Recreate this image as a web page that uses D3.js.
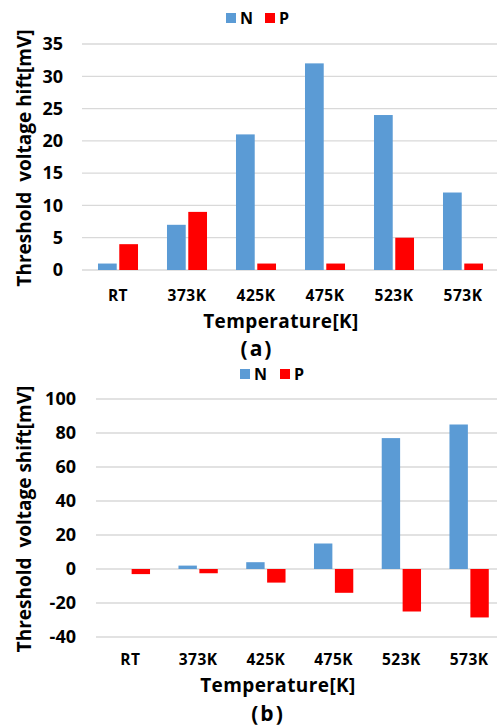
<!DOCTYPE html>
<html>
<head>
<meta charset="utf-8">
<script src="https://cdn.jsdelivr.net/npm/d3@7"></script>
<style>
	body { margin: 0; background: #fff; }
	svg text { font-family: "Open Sans", sans-serif; font-weight: bold; fill: #000; }
</style>
</head>
<body>
<svg width="497" height="727"></svg>
<script>
// Data
var temps = ["RT", "373K", "425K", "475K", "523K", "573K"];
var seriesNames = ["N", "P"];
var colors = ["#5b9bd5", "#ff0000"];

var nShiftA = [1, 7, 21, 32, 24, 12];
var pShiftA = [4, 9, 1, 1, 5, 1];
var ticksA = [0, 5, 10, 15, 20, 25, 30, 35];

var nShiftB = [0, 2, 4, 15, 77, 85];
var pShiftB = [-3, -2.5, -8, -14, -25, -28.5];
var ticksB = [-40, -20, 0, 20, 40, 60, 80, 100];

var svg = d3.select("svg");

// Draw one panel
function drawPanel(opt) {
	var g = svg.append("g");

	var x = d3.scaleBand()
		.domain(temps)
		.range([opt.left, opt.right])
		.paddingInner(0.42)
		.paddingOuter(0.21);

	var x1 = d3.scaleBand()
		.domain(seriesNames)
		.range([0, x.bandwidth()])
		.paddingInner(0.12);

	var y = d3.scaleLinear()
		.domain(opt.domain)
		.range([opt.bottom, opt.top]);

	// Gridlines
	g.append("g")
		.selectAll("line")
		.data(opt.ticks)
		.enter().append("line")
		.attr("x1", opt.gridLeft)
		.attr("x2", 497)
		.attr("y1", (d) => y(d))
		.attr("y2", (d) => y(d))
		.attr("stroke", "#d9d9d9")
		.attr("stroke-width", 1.3);

	// Y tick labels
	g.append("g")
		.selectAll("text")
		.data(opt.ticks)
		.enter().append("text")
		.attr("x", opt.tickX)
		.attr("y", (d) => y(d))
		.attr("dy", "0.35em")
		.attr("text-anchor", "end")
		.style("font-size", "18px")
		.text((d) => d);

	// Bars
	var rows = temps.map((t, i) => ({ t: t, vals: [opt.n[i], opt.p[i]] }));
	g.append("g")
		.selectAll("g")
		.data(rows)
		.enter().append("g")
		.attr("transform", (d) => "translate(" + x(d.t) + ",0)")
		.selectAll("rect")
		.data((d) => d.vals.map((v, j) => ({ key: seriesNames[j], v: v, c: colors[j] })))
		.enter().append("rect")
		.attr("x", (d) => x1(d.key))
		.attr("width", x1.bandwidth())
		.attr("y", (d) => y(Math.max(0, d.v)))
		.attr("height", (d) => Math.abs(y(d.v) - y(0)))
		.attr("fill", (d) => d.c);

	// X labels
	g.append("g")
		.selectAll("text")
		.data(temps)
		.enter().append("text")
		.attr("x", (d) => x(d) + x.bandwidth() / 2)
		.attr("y", opt.xLabelY)
		.attr("dy", "0.35em")
		.attr("text-anchor", "middle")
		.style("font-size", "15.5px")
		.style("letter-spacing", "0.5px")
		.text((d) => d);

	// Axis title
	g.append("text")
		.attr("x", opt.xTitleX)
		.attr("y", opt.xTitleY)
		.attr("dy", "0.35em")
		.attr("text-anchor", "middle")
		.style("font-size", "19px")
		.style("letter-spacing", "0.4px")
		.text("Temperature[K]");

	// Caption (a)/(b)
	g.append("text")
		.attr("x", opt.capX)
		.attr("y", opt.capY)
		.attr("dy", "0.35em")
		.attr("text-anchor", "middle")
		.style("font-size", "21px")
		.style("letter-spacing", "2px")
		.text(opt.caption);

	g.append("text")
		.attr("transform", "translate(24," + opt.yTitleY + ") rotate(-90)")
		.attr("dy", "0.35em")
		.attr("text-anchor", "middle")
		.style("font-size", "19px")
		.attr("xml:space", "preserve")
		.text(opt.yTitle);

	// Legend
	var leg = g.append("g")
		.selectAll("g")
		.data(seriesNames)
		.enter().append("g")
		.attr("transform", (d, i) => "translate(" + opt.legX[i] + "," + opt.legY + ")");
	leg.append("rect")
		.attr("x", 0)
		.attr("y", -5)
		.attr("width", 10)
		.attr("height", 10)
		.attr("fill", (d, i) => colors[i]);
	leg.append("text")
		.attr("x", 14)
		.attr("dy", "0.35em")
		.style("font-size", "16px")
		.text((d) => d);
}

drawPanel({
	n: nShiftA, p: pShiftA, ticks: ticksA, domain: [0, 35],
	left: 83.5, right: 497.5, top: 44, bottom: 270, gridLeft: 82,
	tickX: 63, xLabelY: 296, xTitleX: 281, xTitleY: 321, capX: 257, capY: 349, caption: "(a)",
	yTitle: "Threshold  voltage hift[mV]", yTitleY: 158,
	legX: [226, 265], legY: 18
});

drawPanel({
	n: nShiftB, p: pShiftB, ticks: ticksB, domain: [-40, 100],
	left: 96.5, right: 503, top: 399, bottom: 637, gridLeft: 96,
	tickX: 76, xLabelY: 660, xTitleX: 278, xTitleY: 685, capX: 268, capY: 713.5, caption: "(b)",
	yTitle: "Threshold  voltage shift[mV]", yTitleY: 519,
	legX: [240, 280], legY: 374
});
</script>
</body>
</html>
